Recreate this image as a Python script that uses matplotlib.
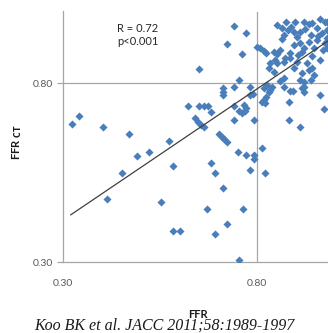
import matplotlib
matplotlib.use("Agg")
import matplotlib.pyplot as plt
import numpy as np

# FFR (x) and FFR-CT (y) values
ffr_left = [0.322, 0.342, 0.402, 0.471, 0.491, 0.522, 0.572, 0.582, 0.452, 0.412, 0.551, 0.582, 0.602]
ffrct_left = [0.687, 0.708, 0.678, 0.658, 0.597, 0.607, 0.638, 0.568, 0.548, 0.477, 0.468, 0.387, 0.387]

ffr_mid_low = [0.671, 0.692, 0.721, 0.762, 0.752, 0.712, 0.692, 0.681, 0.701, 0.708, 0.715, 0.722,
               0.751, 0.772, 0.791, 0.792, 0.812, 0.781, 0.821, 0.741, 0.791]
ffrct_mid_low = [0.447, 0.377, 0.407, 0.447, 0.306, 0.507, 0.548, 0.578, 0.658, 0.650, 0.643, 0.635,
                 0.607, 0.598, 0.598, 0.587, 0.618, 0.557, 0.548, 0.698, 0.698]

ffr_mid_high = [0.741, 0.772, 0.722, 0.761, 0.651, 0.752, 0.712, 0.712, 0.712, 0.741, 0.780, 0.782,
                0.790, 0.621, 0.651, 0.663, 0.674, 0.681, 0.741, 0.766, 0.772, 0.754, 0.761, 0.769,
                0.640, 0.648, 0.656, 0.662]
ffrct_mid_high = [0.959, 0.939, 0.909, 0.880, 0.838, 0.808, 0.787, 0.776, 0.766, 0.788, 0.788, 0.766,
                  0.769, 0.737, 0.737, 0.737, 0.737, 0.718, 0.737, 0.739, 0.729, 0.722, 0.717, 0.723,
                  0.701, 0.691, 0.683, 0.676]

ffr_right = [0.799, 0.808, 0.816, 0.823, 0.812, 0.818, 0.823, 0.821, 0.834, 0.838, 0.829,
             0.883, 0.892, 0.882, 0.921, 0.921, 0.961, 0.971, 0.882, 0.911]
ffrct_right = [0.901, 0.897, 0.890, 0.885, 0.748, 0.753, 0.760, 0.745, 0.780, 0.790, 0.776,
               0.778, 0.778, 0.748, 0.788, 0.776, 0.767, 0.728, 0.697, 0.678]

ffr_cluster = [0.851, 0.875, 0.887, 0.919, 0.942, 0.961, 0.973, 0.894, 0.868, 0.864, 0.902, 0.924,
               0.937, 0.954, 0.967, 0.980, 0.911, 0.932, 0.954, 0.975, 0.894, 0.915, 0.945, 0.885,
               0.842, 0.851, 0.859, 0.846, 0.851, 0.868, 0.872, 0.885, 0.902, 0.928, 0.834, 0.829,
               0.842, 0.868, 0.859, 0.894, 0.915, 0.932, 0.941, 0.919, 0.911, 0.937, 0.945, 0.825,
               0.816, 0.868, 0.915, 0.880, 0.911, 0.934, 0.957, 0.980, 0.921, 0.942, 0.968, 0.864,
               0.898, 0.980, 0.980, 0.962, 0.905]
ffrct_cluster = [0.962, 0.971, 0.956, 0.971, 0.967, 0.978, 0.971, 0.943, 0.934, 0.922, 0.929, 0.950,
                 0.934, 0.953, 0.939, 0.948, 0.911, 0.915, 0.920, 0.911, 0.906, 0.887, 0.897, 0.885,
                 0.887, 0.881, 0.892, 0.864, 0.855, 0.860, 0.869, 0.869, 0.860, 0.855, 0.855, 0.841,
                 0.832, 0.813, 0.806, 0.841, 0.827, 0.836, 0.841, 0.804, 0.808, 0.808, 0.822, 0.794,
                 0.785, 0.790, 0.785, 0.948, 0.942, 0.965, 0.931, 0.926, 0.898, 0.875, 0.892, 0.954,
                 0.970, 0.970, 0.898, 0.864, 0.878]

# regression line (as drawn)
fit_slope = 0.734
fit_intercept = 0.197
fit_x = [0.32, 1.0]

r_text = "R = 0.72\np<0.001"
ticks = [0.30, 0.80]

ffr = np.array(ffr_left + ffr_mid_low + ffr_mid_high + ffr_right + ffr_cluster)
ffrct = np.array(ffrct_left + ffrct_mid_low + ffrct_mid_high + ffrct_right + ffrct_cluster)

plt.rcParams['font.family'] = ['Lato', 'DejaVu Sans']

fig = plt.figure(figsize=(3.28, 3.33), dpi=100)
ax = fig.add_axes([63 / 328, 71 / 333, 272 / 328, 250.5 / 333])

grid_c = '#a6a6a6'
ax.axhline(0.80, color=grid_c, lw=0.9, zorder=1)
ax.axvline(0.80, color=grid_c, lw=0.9, zorder=1)

ax.scatter(ffr, ffrct, marker='D', s=17, color='#4a7ebb', linewidths=0, zorder=3)

fx = np.array(fit_x)
ax.plot(fx, fit_intercept + fit_slope * fx, color='#404040', lw=0.9, zorder=4)

ax.set_xlim(0.30, 1.0)
ax.set_ylim(0.30, 1.0)
ax.set_xticks(ticks)
ax.set_yticks(ticks)
ax.set_xticklabels(['%.2f' % t for t in ticks])
ax.set_yticklabels(['%.2f' % t for t in ticks])

for s in ['top', 'right']:
    ax.spines[s].set_visible(False)
for s in ['left', 'bottom']:
    ax.spines[s].set_color(grid_c)
    ax.spines[s].set_linewidth(0.9)

ax.tick_params(axis='y', length=4, width=0.9, color=grid_c, pad=3, labelsize=7.5, labelcolor='#595959')
ax.tick_params(axis='x', length=0, pad=12, labelsize=7.5, labelcolor='#595959')

ax.text(0.199, 0.955, r_text, transform=ax.transAxes, ha='left', va='top',
        fontsize=8, color='#262626', linespacing=1.3)

fig.text(17 / 328, 1 - 142 / 333, r'FFR $_{\mathbf{CT}}$', rotation=90, ha='center', va='center',
         fontsize=8, fontweight='bold', color='#1a1a1a')
fig.text(198 / 328, 1 - 314 / 333, 'FFR', ha='center', va='center',
         fontsize=8, fontweight='bold', color='#1a1a1a')
fig.text(164 / 328, 1 - 330 / 333, 'Koo BK et al. JACC 2011;58:1989-1997', ha='center', va='baseline',
         fontsize=11.5, style='italic', family='Liberation Serif', color='#1a1a1a')

fig.savefig('out.png', dpi=100)
